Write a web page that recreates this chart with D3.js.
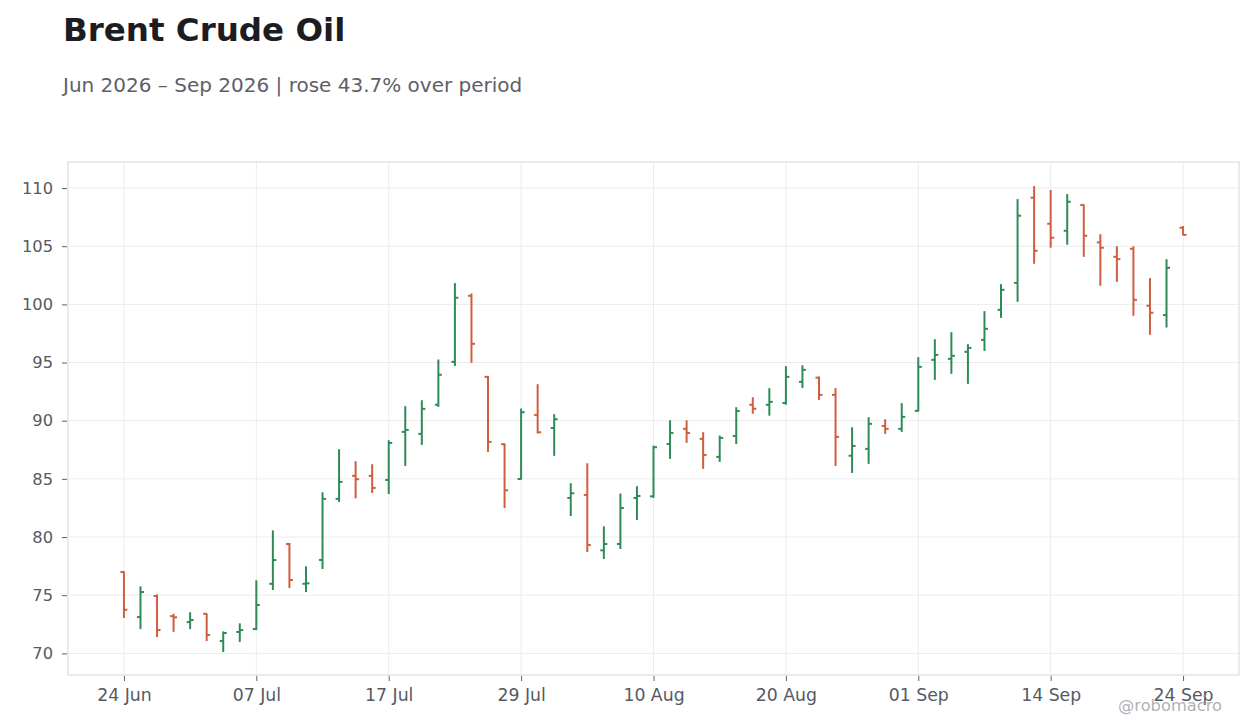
<!DOCTYPE html>
<html>
<head>
<meta charset="utf-8">
<script src="https://cdn.jsdelivr.net/npm/d3@7"></script>
<style>
  html, body { margin: 0; padding: 0; background: #ffffff; }
  svg { display: block; font-family: "DejaVu Sans", sans-serif; }
</style>
</head>
<body>
<svg id="chart" width="1260" height="728"></svg>
<script>
const dates = ["2026-06-24","2026-06-25","2026-06-26","2026-06-29","2026-06-30","2026-07-01","2026-07-02","2026-07-06",
  "2026-07-07","2026-07-08","2026-07-09","2026-07-10","2026-07-13","2026-07-14","2026-07-15","2026-07-16",
  "2026-07-17","2026-07-20","2026-07-21","2026-07-22","2026-07-23","2026-07-24","2026-07-27","2026-07-28",
  "2026-07-29","2026-07-30","2026-07-31","2026-08-03","2026-08-04","2026-08-05","2026-08-06","2026-08-07",
  "2026-08-10","2026-08-11","2026-08-12","2026-08-13","2026-08-14","2026-08-17","2026-08-18","2026-08-19",
  "2026-08-20","2026-08-21","2026-08-24","2026-08-25","2026-08-26","2026-08-27","2026-08-28","2026-08-31",
  "2026-09-01","2026-09-02","2026-09-03","2026-09-04","2026-09-08","2026-09-09","2026-09-10","2026-09-11",
  "2026-09-14","2026-09-15","2026-09-16","2026-09-17","2026-09-18","2026-09-21","2026-09-22","2026-09-23",
  "2026-09-24"];
const open = [77.0,73.12,74.93,73.2,72.69,73.4,71.06,71.84,72.09,75.98,79.4,75.98,78.03,83.28,85.26,85.26,
  84.91,89.04,88.87,91.37,95.06,100.74,93.77,87.98,84.99,90.5,89.38,83.36,83.62,78.86,79.4,83.36,
  83.5,88.0,89.3,88.44,86.89,88.69,91.37,91.37,91.53,93.34,93.7,92.22,86.99,87.58,89.55,89.3,
  90.85,95.23,95.32,95.92,96.95,99.53,101.85,109.17,106.93,106.33,108.55,105.33,104.09,104.78,99.88,99.08,
  106.59];
const high = [77.05,75.76,75.07,73.41,73.53,73.44,71.89,72.58,76.28,80.57,79.49,77.48,83.85,87.55,86.52,86.26,
  88.32,91.25,91.76,95.26,101.83,100.94,93.85,88.04,91.05,93.14,90.56,84.62,86.34,80.92,83.74,84.37,
  87.86,90.04,90.04,89.01,88.72,91.16,92.02,92.8,94.69,94.77,93.8,92.8,89.44,90.3,90.13,91.51,
  95.46,97.01,97.61,96.58,99.42,101.74,109.05,110.17,109.83,109.48,108.59,106.04,105.0,105.0,102.26,103.89,
  106.73];
const low = [73.04,72.09,71.4,71.85,72.09,71.06,70.11,70.98,72.0,75.45,75.62,75.27,77.25,83.02,83.33,83.79,
  83.7,86.11,87.92,91.19,94.71,94.97,87.32,82.5,84.94,88.9,86.98,81.81,78.71,78.11,78.97,81.47,
  83.36,86.72,88.1,85.86,86.46,88.0,90.6,90.43,91.37,92.82,91.79,86.11,85.51,86.29,88.87,89.04,
  90.8,93.51,94.03,93.17,96.0,98.84,100.22,103.49,104.87,105.13,104.09,101.6,101.94,99.02,97.38,98.01,
  105.93];
const close = [73.75,75.27,72.0,73.1,72.87,71.58,71.75,72.0,74.16,78.02,76.31,76.02,83.28,84.74,84.97,84.22,
  88.09,89.21,91.02,93.95,100.57,96.61,88.18,84.02,90.73,89.01,90.13,83.76,79.32,79.4,82.5,83.53,
  87.72,88.95,88.95,87.06,88.52,90.84,91.03,91.62,93.77,94.37,92.22,88.61,87.83,89.73,89.3,90.33,
  94.63,95.66,95.58,96.26,97.9,101.25,107.62,104.61,105.73,108.82,105.9,104.87,103.89,100.39,99.28,103.15,
  105.98];
const yTicks = [70, 75, 80, 85, 90, 95, 100, 105, 110];
const xTickIdx = [0, 8, 16, 24, 32, 40, 48, 56, 64];

const title = "Brent Crude Oil";
const subtitle = "Jun 2026 \u2013 Sep 2026 | rose 43.7% over period";
const credit = "@robomacro";

const UP = "#2e8b57", DOWN = "#cd5f3f";
const svg = d3.select("#chart");
const L = 68, R = 1239, T = 162, B = 675;

const parse = d3.timeParse("%Y-%m-%d");
const fmt = d3.timeFormat("%d %b");
const data = dates.map((d, i) => ({ i, date: parse(d), o: open[i], h: high[i], l: low[i], c: close[i] }));

const pad = 3.38;
const x = d3.scaleLinear().domain([-pad, data.length - 1 + pad]).range([L, R]);
const y = d3.scaleLinear().domain([68.14, 112.24]).range([B, T]);

svg.append("rect").attr("width", 1260).attr("height", 728).attr("fill", "#fff");

// titles
svg.append("text").attr("x", 63).attr("y", 41).attr("font-size", 32.5).attr("font-weight", "bold")
  .attr("fill", "#1c1c21").text(title);
svg.append("text").attr("x", 63).attr("y", 92).attr("font-size", 20)
  .attr("fill", "#5e5f67").text(subtitle);

// gridlines
const grid = svg.append("g");
grid.selectAll("line.h").data(yTicks).join("line")
  .attr("x1", L).attr("x2", R).attr("y1", d => y(d)).attr("y2", d => y(d))
  .attr("stroke", "#ececef").attr("stroke-width", 1);
grid.selectAll("line.v").data(xTickIdx).join("line")
  .attr("x1", d => x(d)).attr("x2", d => x(d)).attr("y1", T).attr("y2", B)
  .attr("stroke", "#ececef").attr("stroke-width", 1);

// frame
svg.append("rect").attr("x", L).attr("y", T).attr("width", R - L).attr("height", B - T)
  .attr("fill", "none").attr("stroke", "#dcdce0").attr("stroke-width", 1.2);

// axes
const yAxis = d3.axisLeft(y).tickValues(yTicks).tickSize(5).tickPadding(9).tickFormat(d3.format("d"));
const gy = svg.append("g").attr("transform", `translate(${L - 1},0)`).call(yAxis);
gy.select(".domain").remove();
gy.selectAll(".tick line").attr("stroke", "#5a5f6a");
gy.selectAll(".tick text").attr("fill", "#555a64").attr("font-size", 16.3).attr("font-family", "DejaVu Sans");

const xAxis = d3.axisBottom(x).tickValues(xTickIdx).tickSize(5).tickPadding(8)
  .tickFormat(i => fmt(data[i].date));
const gx = svg.append("g").attr("transform", `translate(0,${B + 1})`).call(xAxis);
gx.select(".domain").remove();
gx.selectAll(".tick line").attr("stroke", "#5a5f6a");
gx.selectAll(".tick text").attr("fill", "#555a64").attr("font-size", 17.3).attr("font-family", "DejaVu Sans");

// OHLC bars
const bars = svg.append("g").selectAll("g").data(data).join("g")
  .attr("stroke", d => d.c >= d.o ? UP : DOWN).attr("stroke-width", 2);
bars.append("line").attr("x1", d => x(d.i)).attr("x2", d => x(d.i))
  .attr("y1", d => y(d.h)).attr("y2", d => y(d.l));
bars.append("line").attr("x1", d => x(d.i) - 3.5).attr("x2", d => x(d.i))
  .attr("y1", d => y(d.o)).attr("y2", d => y(d.o));
bars.append("line").attr("x1", d => x(d.i)).attr("x2", d => x(d.i) + 3.5)
  .attr("y1", d => y(d.c)).attr("y2", d => y(d.c));

// credit
svg.append("text").attr("x", 1222).attr("y", 711).attr("text-anchor", "end")
  .attr("font-size", 16.3).attr("fill", "#b2b2b6").text(credit);
</script>
</body>
</html>
